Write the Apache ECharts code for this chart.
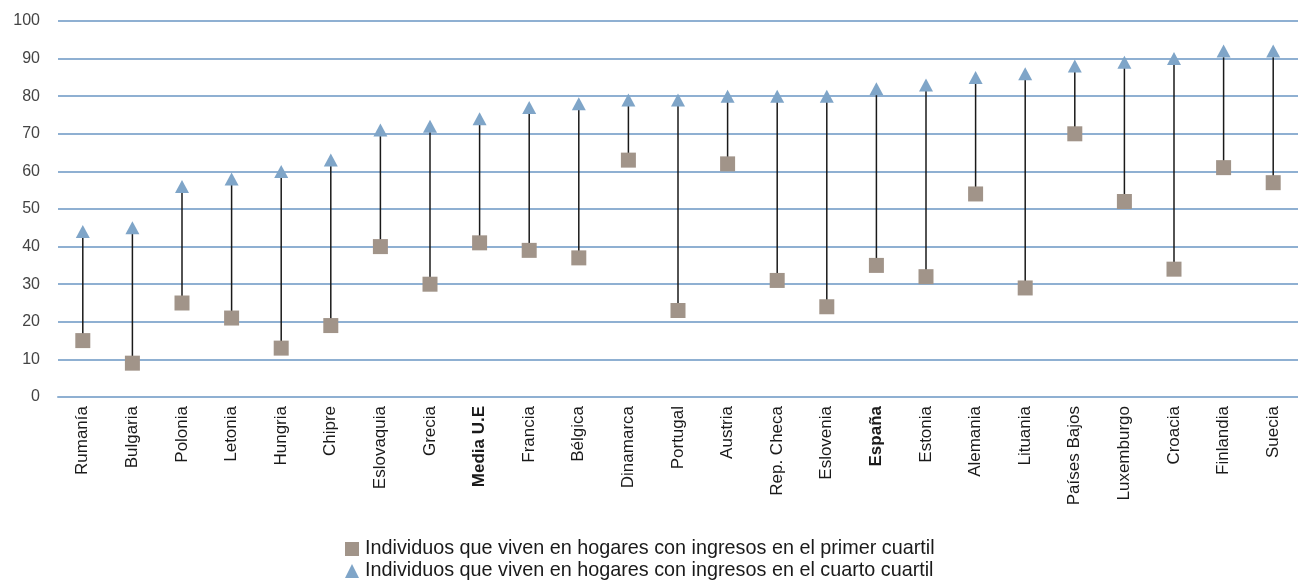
<!DOCTYPE html>
<html>
<head>
<meta charset="utf-8">
<script src="https://cdn.jsdelivr.net/npm/echarts@6/dist/echarts.min.js"></script>
<style>html,body{margin:0;padding:0;background:#fff}#c{width:1298px;height:583px}</style>
</head>
<body>
<div id="c"></div>
<script>
const categories = ["Rumanía","Bulgaria","Polonia","Letonia","Hungria","Chipre","Eslovaquia","Grecia","Media U.E","Francia","Bélgica","Dinamarca","Portugal","Austria","Rep. Checa","Eslovenia","España","Estonia","Alemania","Lituania","Países Bajos","Luxemburgo","Croacia","Finlandia","Suecia"];
const primerCuartil = [15,9,25,21,13,19,40,30,41,39,37,63,23,62,31,24,35,32,54,29,70,52,34,61,57];
const cuartoCuartil = [44,45,56,58,60,63,71,72,74,77,78,79,79,80,80,80,82,83,85,86,88,89,90,92,92];
const boldCategories = ["Media U.E","España"];
const yTicks = {min:0, max:100, interval:10};
const name1 = "Individuos que viven en hogares con ingresos en el primer cuartil";
const name2 = "Individuos que viven en hogares con ingresos en el cuarto cuartil";

const FONT = "'Liberation Sans Narrow', 'Liberation Sans', sans-serif";
const chart = echarts.init(document.getElementById('c'), null, {renderer:'canvas'});
const rangeData = categories.map((c,i)=>[i, primerCuartil[i], cuartoCuartil[i]]);
chart.setOption({
  animation:false,
  grid:{left:58, right:-3, top:21, bottom:186, containLabel:false},
  legend:{
    orient:'vertical', left:345, top:539, bottom:0, height:60, padding:0,
    itemWidth:14, itemHeight:14, itemGap:2,
    textStyle:{fontFamily:FONT, fontSize:19.8, lineHeight:20, color:'#1a1a1a', padding:[0,0,0,1]},
    data:[{name:name1, icon:'rect'},{name:name2, icon:'triangle'}]
  },
  xAxis:{
    type:'category', data:categories,
    axisLine:{lineStyle:{color:'#8fb0d2', width:2}},
    axisTick:{show:false},
    axisLabel:{
      rotate:90, interval:0, margin:9, fontFamily:FONT, fontSize:17, color:'#1a1a1a',
      formatter:v=> boldCategories.includes(v) ? '{b|'+v+'}' : v,
      rich:{b:{fontWeight:'bold', fontFamily:FONT, fontSize:17, color:'#1a1a1a'}}
    }
  },
  yAxis:{
    type:'value', min:yTicks.min, max:yTicks.max, interval:yTicks.interval,
    axisLine:{show:false}, axisTick:{show:false},
    axisLabel:{margin:18, fontFamily:"'Liberation Sans', sans-serif", fontSize:16, color:'#444'},
    splitLine:{lineStyle:{color:'#8fb0d2', width:2}}
  },
  series:[
    {
      type:'custom', name:'range', data:rangeData, z:1, silent:true,
      encode:{x:0, y:[1,2]},
      renderItem:(params, api)=>{
        const p1 = api.coord([api.value(0), api.value(1)]);
        const p2 = api.coord([api.value(0), api.value(2)]);
        return {type:'line', shape:{x1:p1[0], y1:p1[1], x2:p2[0], y2:p2[1]}, style:{stroke:'#1a1a1a', lineWidth:1.5}};
      }
    },
    {type:'scatter', name:name1, data:primerCuartil, symbol:'rect', symbolSize:15, z:3,
     itemStyle:{color:'#a19489', opacity:1}},
    {type:'scatter', name:name2, data:cuartoCuartil, symbol:'triangle', symbolSize:[14,13], z:3,
     itemStyle:{color:'#7fa5c8', opacity:1}}
  ]
});
</script>
</body>
</html>
